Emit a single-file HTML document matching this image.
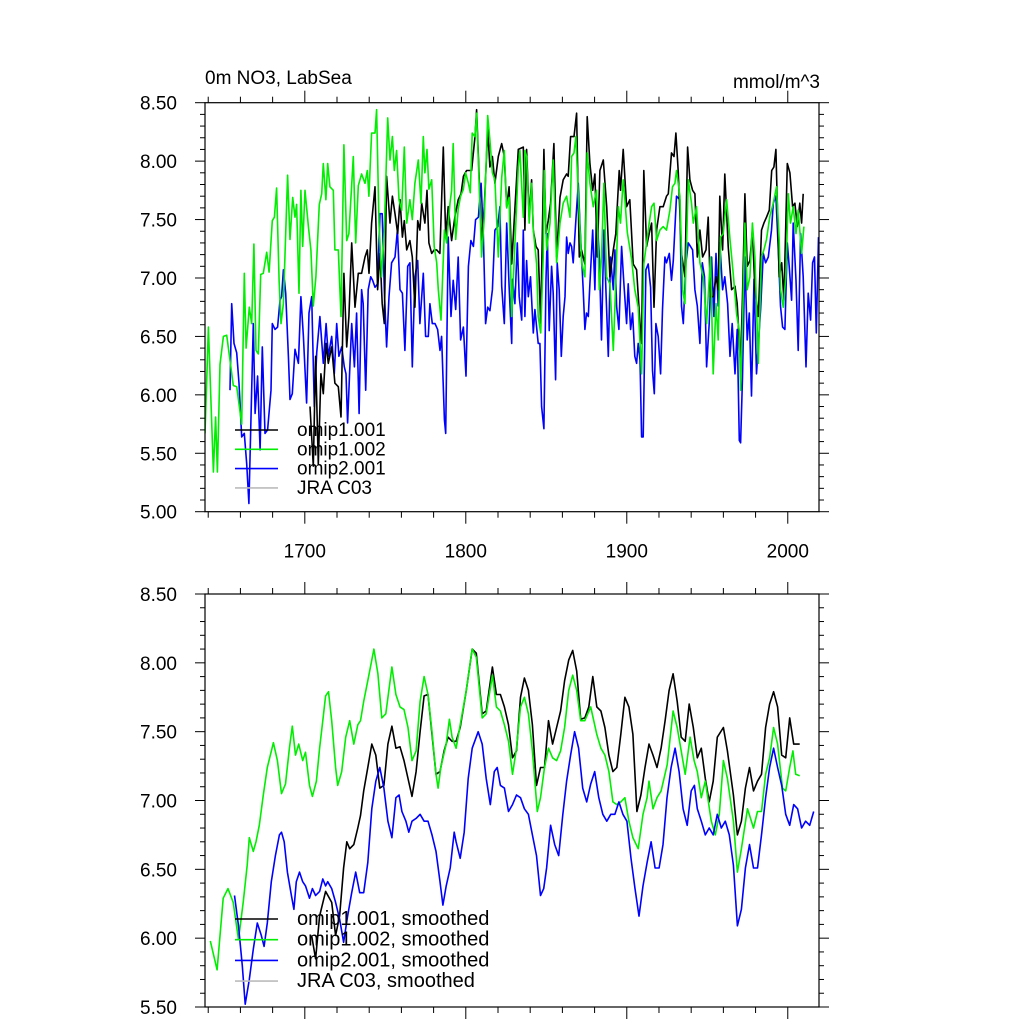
<!DOCTYPE html>
<html><head><meta charset="utf-8">
<style>
html,body{margin:0;padding:0;background:#fff;}
svg{display:block;font-family:"Liberation Sans",Arial,sans-serif;}
</style></head>
<body>
<svg id="chart" width="1024" height="1024" viewBox="0 0 1024 1024">
<text x="205" y="84" font-size="19">0m NO3, LabSea</text>
<text x="820" y="88" font-size="19" text-anchor="end">mmol/m^3</text>
<g id="top"></g>
<g id="bot"></g>
</svg>
<script>
// ---------- data ----------
const topYTicks = [5.0,5.5,6.0,6.5,7.0,7.5,8.0,8.5];
const botYTicks = [5.5,6.0,6.5,7.0,7.5,8.0,8.5];
const xTickLabels = [1700,1800,1900,2000];
const topSeriesNames = ["omip1.001","omip1.002","omip2.001","JRA C03"];
const botSeriesNames = ["omip1.001, smoothed","omip1.002, smoothed","omip2.001, smoothed","JRA C03, smoothed"];

const g1Years=[1638.0,1640.1,1643.2,1644.6,1645.7,1647.3,1649.4,1651.5,1655.6,1657.7,1660.8,1662.4,1663.5,1665.5,1667.0,1668.4,1669.7,1671.1,1672.6,1674.2,1676.3,1677.8,1679.8,1681.1,1682.5,1684.0,1685.2,1686.7,1689.3,1690.8,1692.5,1693.9,1694.9,1696.4,1697.6,1698.7,1700.1,1702.2,1703.8,1705.3,1706.9,1709.0,1710.5,1711.5,1713.1,1714.2,1715.6,1717.7,1718.7,1720.8,1722.5,1724.3,1726.0,1727.4,1730.1,1731.6,1733.2,1735.3,1737.4,1738.8,1739.8,1741.5,1743.6,1744.6,1746.1,1747.7,1749.4,1751.5,1752.9,1754.4,1755.6,1757.0,1758.5,1760.2,1761.8,1763.3,1765.3,1766.8,1768.4,1770.5,1772.2,1773.6,1774.6,1775.9,1777.1,1778.8,1780.4,1781.9,1782.9,1784.6,1786.7,1788.1,1790.2,1791.2,1792.2,1793.7,1795.3,1796.8,1798.5,1799.9,1801.6,1802.8,1804.0,1805.7,1806.7,1808.2,1809.8,1811.5,1813.6,1815.0,1816.5,1818.1,1820.2,1822.3,1823.9,1825.4,1826.9,1828.5,1832.6,1833.6,1835.7,1836.7,1837.8,1839.4,1840.9,1841.9,1842.9,1844.0,1845.0,1846.5,1848.1,1848.7,1850.2,1852.3,1854.3,1856.4,1858.5,1860.5,1862.6,1864.7,1865.7,1867.2,1868.4,1869.9,1872.0,1874.0,1875.4,1877.1,1879.2,1881.2,1882.9,1884.3,1885.8,1887.4,1889.5,1891.6,1892.6,1894.7,1896.1,1897.8,1898.8,1900.3,1903.0,1905.0,1907.1,1909.2,1910.6,1912.3,1913.9,1915.4,1916.9,1918.5,1920.6,1922.6,1924.7,1925.8,1926.8,1928.4,1929.9,1930.9,1933.0,1934.7,1936.1,1938.2,1940.2,1941.3,1943.3,1945.4,1947.5,1949.6,1952.0,1953.7,1955.4,1956.8,1958.3,1959.9,1962.0,1964.1,1966.1,1968.2,1969.9,1970.7,1971.9,1973.4,1974.8,1976.5,1978.0,1979.6,1981.7,1983.7,1985.2,1986.8,1988.9,1991.0,1993.0,1994.7,1995.5,1997.2,1998.8,2000.3,2001.7,2003.4,2005.1,2006.5,2008.6,2010.0];
const g1Vals=[5.67,6.58,5.34,5.81,5.34,6.26,6.50,6.51,6.08,6.07,5.75,7.04,6.40,6.75,6.61,7.29,6.38,6.35,7.03,7.04,7.22,7.05,7.49,7.52,7.77,6.98,6.61,6.78,7.88,7.33,7.69,7.52,7.63,6.87,7.75,7.27,7.75,7.44,7.24,6.76,7.01,7.63,7.72,7.98,7.67,7.98,7.78,7.75,7.24,7.24,6.67,8.14,7.32,7.38,8.04,7.30,7.79,7.89,7.81,7.92,7.70,8.24,8.24,8.44,7.47,7.01,7.41,8.37,8.01,8.21,7.92,8.09,7.67,7.58,8.12,7.47,7.67,7.50,7.81,8.01,7.64,8.21,7.90,8.10,7.76,7.84,7.27,7.13,6.90,6.64,7.41,7.30,7.64,7.75,8.15,7.33,7.59,7.70,7.76,7.90,7.81,7.73,8.24,8.21,8.41,7.84,7.18,7.52,8.39,8.18,7.90,7.84,7.18,7.86,8.09,7.60,7.69,6.67,7.95,8.09,7.52,8.09,8.04,7.47,7.81,7.41,7.27,7.12,6.67,6.53,7.18,7.92,7.24,7.47,8.01,7.13,7.47,7.64,7.70,7.52,8.04,8.07,8.21,7.70,7.13,7.01,8.07,7.81,7.61,7.75,6.90,7.18,7.81,7.01,6.95,6.38,6.75,7.61,7.47,7.84,7.67,7.39,7.16,6.90,6.75,6.18,7.12,7.30,7.47,7.61,7.64,7.32,7.41,7.44,7.41,7.50,7.58,7.78,7.81,7.92,7.70,6.90,6.78,7.84,7.64,7.47,7.61,7.13,7.01,6.61,7.18,6.18,6.78,6.47,7.35,7.38,7.67,7.33,7.04,6.69,6.55,6.04,6.61,7.47,6.90,7.01,7.47,7.18,6.27,7.18,7.24,7.33,7.53,7.64,7.78,7.32,6.90,6.75,7.01,7.72,7.47,7.61,7.38,7.58,7.21,7.44];

const k1Years=[1703.2,1705.3,1706.7,1708.4,1710.0,1711.5,1713.2,1714.6,1716.7,1718.7,1720.8,1722.5,1724.3,1726.0,1727.4,1729.1,1731.2,1733.2,1735.3,1737.4,1738.8,1739.9,1741.5,1743.6,1745.2,1746.7,1748.1,1749.4,1750.8,1752.9,1754.4,1756.0,1757.7,1759.1,1760.6,1761.8,1763.3,1765.3,1766.8,1768.4,1770.1,1771.5,1772.6,1774.6,1775.9,1777.1,1778.8,1780.4,1781.9,1783.9,1786.0,1787.5,1789.1,1791.2,1793.3,1795.3,1797.0,1798.5,1800.5,1802.0,1803.6,1805.7,1806.7,1808.2,1809.8,1811.5,1813.6,1815.0,1816.5,1818.1,1820.2,1822.3,1823.9,1825.4,1826.9,1828.5,1832.6,1835.7,1836.7,1837.8,1839.4,1840.9,1841.9,1843.6,1845.0,1846.5,1848.5,1849.8,1851.2,1852.7,1854.7,1856.4,1858.5,1860.5,1862.6,1863.6,1865.1,1867.2,1868.8,1870.5,1871.9,1874.0,1875.4,1877.1,1878.8,1880.2,1881.7,1883.3,1885.4,1887.5,1889.5,1891.6,1893.2,1895.3,1896.1,1897.8,1899.9,1901.9,1904.0,1906.1,1908.2,1909.2,1910.6,1912.3,1913.9,1915.4,1916.9,1918.5,1920.6,1922.6,1924.7,1925.8,1927.8,1929.3,1930.5,1932.0,1934.0,1936.1,1937.8,1939.2,1940.9,1942.3,1943.8,1945.4,1947.1,1949.2,1950.6,1952.0,1953.7,1955.4,1956.8,1957.8,1959.5,1960.9,1963.0,1965.1,1967.2,1968.6,1969.9,1970.7,1971.9,1973.4,1974.8,1976.5,1978.0,1979.6,1981.7,1983.7,1985.2,1986.8,1988.5,1990.0,1991.4,1992.6,1994.7,1996.2,1997.6,1999.7,2001.3,2003.0,2004.4,2005.9,2007.5,2008.6,2009.6];
const k1Vals=[5.90,5.39,6.33,5.41,6.18,6.01,6.44,6.27,6.41,6.10,6.07,5.81,7.04,6.41,6.67,7.30,6.75,7.04,7.04,7.18,7.24,7.04,7.47,7.78,6.90,7.21,6.78,6.61,7.87,7.47,7.70,7.55,7.38,7.67,7.35,7.49,7.24,7.32,7.18,6.75,7.49,7.41,7.64,7.47,7.75,7.30,7.21,7.24,7.24,7.21,8.12,7.35,7.61,7.32,7.53,7.67,7.72,7.87,7.92,7.92,7.92,8.21,8.44,7.90,7.30,7.61,8.27,7.95,8.04,7.81,8.04,8.15,8.04,7.61,7.78,7.12,8.10,8.12,7.41,8.10,7.52,7.84,7.41,7.27,7.24,6.61,8.10,7.38,7.49,7.64,8.15,7.18,7.69,7.84,7.89,7.87,8.21,8.21,8.41,7.18,7.24,7.12,8.38,7.98,7.75,7.89,7.18,7.92,8.01,7.61,7.01,7.24,7.38,7.92,7.75,8.10,7.61,7.67,7.12,7.07,6.61,6.44,7.92,7.27,7.38,7.47,6.75,7.41,7.61,7.61,7.70,7.72,8.07,8.04,8.24,7.90,7.21,7.01,8.12,7.84,7.75,7.72,7.18,7.41,7.18,7.24,7.52,6.84,6.84,7.01,6.90,7.70,7.24,7.89,7.27,6.90,6.93,6.78,6.44,6.27,6.84,7.72,7.10,7.15,7.41,6.90,6.67,7.41,7.47,7.52,7.58,7.92,7.95,8.10,7.01,7.13,6.81,7.98,7.90,7.61,7.64,7.44,7.64,7.47,7.72];

const b1Years=[1653.5,1654.6,1656.0,1657.7,1659.1,1660.8,1662.4,1663.9,1665.3,1667.0,1668.0,1669.1,1670.7,1672.2,1673.6,1675.3,1676.9,1679.0,1679.8,1681.5,1683.1,1684.6,1685.6,1686.7,1688.1,1689.8,1690.8,1692.2,1693.9,1696.0,1697.6,1699.1,1701.1,1702.6,1704.3,1705.9,1707.4,1709.4,1711.5,1713.2,1714.6,1716.7,1718.3,1719.8,1721.2,1722.9,1724.5,1725.6,1726.6,1728.1,1729.1,1730.8,1732.2,1733.7,1735.3,1736.3,1737.8,1739.4,1740.9,1742.1,1743.6,1745.2,1746.7,1748.1,1749.4,1750.8,1752.3,1753.9,1756.0,1757.5,1759.1,1760.6,1762.2,1763.9,1765.3,1766.8,1768.4,1770.1,1771.5,1773.6,1775.0,1776.7,1777.7,1779.2,1780.9,1782.5,1784.0,1785.0,1786.7,1787.5,1789.1,1790.8,1792.2,1793.7,1795.3,1796.8,1798.5,1800.1,1801.6,1803.2,1804.7,1806.1,1807.8,1809.5,1810.9,1812.3,1813.6,1815.0,1816.5,1818.1,1819.8,1821.2,1822.3,1823.9,1825.4,1826.9,1828.5,1829.1,1830.5,1832.0,1833.2,1834.7,1835.7,1836.7,1837.8,1838.8,1840.2,1841.9,1842.9,1845.0,1846.0,1847.1,1848.5,1849.8,1850.6,1851.8,1853.3,1854.3,1855.8,1856.8,1858.0,1859.3,1860.5,1861.6,1862.6,1863.6,1864.7,1865.7,1866.7,1868.4,1869.9,1870.9,1872.9,1874.0,1875.0,1876.1,1877.1,1878.8,1880.2,1881.2,1882.9,1884.3,1885.8,1887.0,1888.5,1889.9,1891.6,1892.6,1893.7,1895.1,1896.8,1898.2,1899.9,1900.9,1902.4,1903.6,1905.0,1906.1,1907.1,1908.2,1909.2,1910.2,1911.9,1913.3,1914.8,1916.0,1917.1,1918.1,1919.5,1921.0,1922.2,1923.7,1924.7,1926.4,1927.8,1928.9,1930.9,1933.0,1934.0,1935.1,1936.7,1938.2,1939.6,1940.9,1942.3,1943.8,1945.4,1946.9,1948.3,1949.6,1951.2,1952.7,1954.1,1955.4,1956.8,1957.8,1959.5,1960.9,1962.6,1964.1,1965.5,1967.2,1968.6,1969.9,1970.7,1971.9,1973.4,1974.8,1976.1,1977.5,1979.0,1980.6,1982.3,1983.1,1984.8,1986.2,1987.9,1989.9,1991.0,1992.6,1994.1,1995.5,1996.8,1998.2,1999.7,2000.9,2002.4,2003.4,2005.1,2006.5,2008.0,2009.6,2011.3,2012.7,2014.2,2015.4,2016.6,2017.7,2019.1];
const b1Vals=[6.04,6.78,6.44,6.36,6.10,5.64,5.67,5.41,5.07,6.05,6.61,5.84,6.16,5.53,6.41,5.67,5.70,6.04,6.61,6.56,6.58,6.81,6.84,7.07,6.87,6.33,5.96,6.01,6.39,6.27,6.84,6.50,5.93,6.70,6.84,5.90,6.36,6.67,6.27,6.61,6.33,6.50,6.18,6.61,6.33,6.41,6.24,6.18,5.76,6.27,6.61,6.24,6.70,5.84,6.90,6.78,6.04,6.90,7.01,6.98,6.92,6.95,7.55,7.55,6.90,6.41,6.84,7.13,7.18,7.41,6.90,6.87,6.38,7.10,7.13,6.24,7.01,7.15,6.61,7.04,6.50,6.50,6.78,6.61,6.61,6.56,6.38,6.50,5.79,5.67,7.35,6.67,6.98,6.73,7.18,6.47,6.58,6.16,7.10,7.32,7.27,7.50,7.52,7.81,7.38,6.61,6.75,6.72,6.90,7.41,7.44,7.61,6.93,6.61,7.47,6.93,6.44,6.99,6.78,7.30,6.84,6.64,7.41,6.67,7.15,6.84,7.01,6.53,6.73,6.44,6.44,5.90,5.71,6.99,7.38,6.55,7.10,6.87,6.13,7.13,6.90,6.33,6.67,6.84,7.35,7.21,7.30,7.27,7.13,7.50,7.81,7.47,6.90,6.56,6.70,6.67,6.95,7.41,6.90,7.61,7.18,6.47,7.41,6.90,6.33,7.18,6.90,7.24,6.76,6.56,7.27,6.95,6.61,6.95,6.56,6.70,6.33,6.27,6.44,6.30,5.64,5.64,7.07,7.12,6.92,6.21,6.01,6.61,6.50,6.18,6.73,7.18,7.13,7.21,6.98,7.15,7.70,7.67,6.76,6.61,7.13,7.30,7.27,7.24,6.90,6.76,6.44,7.13,7.01,6.24,6.61,7.18,6.67,7.21,6.76,7.30,6.90,7.01,6.78,6.33,6.61,6.18,6.56,5.61,5.59,6.15,7.18,6.47,6.70,5.99,6.99,6.18,6.56,6.73,7.21,7.13,7.18,7.41,7.64,7.70,7.24,6.76,6.58,6.56,7.30,7.10,6.81,7.47,6.98,6.38,7.38,7.01,6.24,6.87,6.64,7.13,7.18,6.53,7.35];

const g2Years=[1641.3,1645.5,1649.3,1652.3,1655.5,1658.8,1661.7,1664.2,1665.5,1668.0,1669.7,1671.7,1674.2,1676.7,1680.5,1683.0,1685.5,1688.0,1690.4,1692.2,1694.2,1696.2,1698.7,1700.4,1702.9,1704.7,1707.2,1709.2,1711.2,1712.9,1714.7,1716.7,1719.1,1720.4,1722.9,1725.4,1727.9,1730.4,1732.9,1734.6,1736.6,1739.1,1742.9,1745.4,1747.8,1750.3,1754.1,1756.6,1759.1,1761.6,1764.1,1766.6,1769.1,1771.6,1774.1,1776.5,1779.0,1781.5,1782.8,1784.5,1787.8,1789.8,1791.5,1794.0,1796.5,1800.3,1804.0,1806.5,1810.2,1812.7,1816.5,1819.0,1821.5,1824.0,1826.5,1829.0,1831.5,1834.0,1836.4,1838.9,1841.4,1844.4,1846.4,1848.9,1851.4,1853.9,1856.4,1858.9,1861.4,1863.9,1866.4,1868.9,1871.4,1873.9,1877.6,1881.4,1883.9,1886.4,1888.9,1891.4,1893.8,1896.3,1898.8,1901.3,1903.8,1907.1,1910.1,1912.6,1913.8,1916.3,1918.8,1921.3,1925.1,1928.8,1931.3,1933.8,1936.3,1939.3,1941.8,1943.8,1946.3,1948.8,1952.5,1955.0,1957.5,1960.0,1962.5,1966.2,1968.7,1971.2,1975.0,1978.7,1981.2,1983.7,1986.2,1988.7,1991.2,1993.7,1996.7,1998.7,2001.2,2003.2,2004.9,2007.4];
const g2Vals=[5.98,5.77,6.29,6.36,6.26,5.99,6.26,6.53,6.73,6.63,6.70,6.82,7.04,7.24,7.42,7.29,7.05,7.12,7.38,7.54,7.33,7.41,7.29,7.35,7.11,7.03,7.14,7.38,7.58,7.76,7.79,7.58,7.24,7.11,7.21,7.46,7.58,7.41,7.55,7.58,7.72,7.87,8.10,7.92,7.60,7.63,7.97,7.77,7.68,7.66,7.53,7.29,7.36,7.72,7.90,7.77,7.50,7.19,7.09,7.24,7.41,7.59,7.46,7.38,7.55,7.80,8.10,8.04,7.60,7.63,7.91,7.68,7.65,7.55,7.43,7.19,7.38,7.68,7.75,7.63,7.36,6.92,7.02,7.24,7.38,7.31,7.29,7.36,7.53,7.80,7.91,7.80,7.58,7.58,7.68,7.48,7.38,7.33,7.21,6.99,6.97,6.99,7.02,6.85,6.73,6.65,6.90,7.02,7.14,6.94,7.02,7.07,7.26,7.65,7.53,7.36,7.19,7.46,7.29,7.21,7.02,7.14,6.85,6.75,6.90,7.29,7.16,6.85,6.48,6.65,6.94,6.80,6.92,6.92,7.19,7.31,7.53,7.41,7.09,7.07,7.24,7.36,7.19,7.18];

const k2Years=[1704.2,1706.7,1709.2,1712.9,1716.7,1719.1,1721.6,1724.1,1726.1,1727.9,1730.4,1732.9,1734.6,1736.6,1739.1,1741.6,1744.1,1746.6,1749.1,1751.6,1754.1,1756.6,1759.1,1761.6,1764.1,1766.6,1769.1,1771.6,1774.1,1776.5,1779.0,1781.5,1784.0,1786.5,1789.0,1791.5,1794.0,1796.5,1800.3,1804.0,1806.5,1810.2,1812.7,1816.5,1819.0,1821.5,1824.0,1826.5,1829.0,1831.5,1834.0,1836.4,1838.9,1841.4,1843.9,1846.4,1848.9,1851.4,1853.9,1856.4,1858.9,1861.4,1863.9,1866.4,1868.9,1871.4,1873.9,1876.4,1878.9,1881.4,1883.9,1886.4,1888.9,1891.4,1893.8,1896.3,1898.8,1901.3,1903.8,1906.3,1908.8,1911.3,1913.8,1916.3,1918.8,1921.3,1923.8,1926.3,1928.8,1931.3,1933.8,1936.3,1938.8,1941.3,1943.8,1946.3,1948.8,1951.2,1953.7,1956.2,1960.0,1962.5,1966.2,1968.7,1971.2,1973.7,1976.2,1978.7,1981.2,1983.7,1986.2,1988.7,1991.2,1993.7,1996.2,1998.7,2001.2,2003.7,2007.4];
const k2Vals=[6.02,5.85,6.16,6.34,6.26,6.02,6.16,6.51,6.70,6.65,6.68,6.80,6.89,7.07,7.24,7.41,7.33,7.09,7.11,7.41,7.54,7.38,7.39,7.29,7.16,7.03,7.21,7.50,7.76,7.77,7.48,7.19,7.21,7.36,7.46,7.43,7.43,7.53,7.80,8.10,8.07,7.63,7.65,7.97,7.77,7.77,7.68,7.55,7.31,7.36,7.75,7.89,7.80,7.55,7.11,7.24,7.24,7.58,7.41,7.53,7.65,7.87,8.02,8.09,7.94,7.59,7.60,7.68,7.90,7.68,7.65,7.53,7.33,7.21,7.24,7.48,7.75,7.68,7.48,6.92,7.04,7.24,7.41,7.33,7.24,7.38,7.58,7.80,7.92,7.72,7.46,7.43,7.70,7.53,7.31,7.38,7.16,6.99,7.14,7.46,7.53,7.36,7.04,6.75,6.85,7.09,7.24,7.07,7.14,7.19,7.53,7.70,7.79,7.68,7.33,7.31,7.60,7.41,7.41];

const b2Years=[1656.3,1658.8,1661.2,1663.0,1665.5,1668.0,1670.5,1673.0,1674.7,1676.7,1679.2,1681.7,1684.2,1685.5,1687.2,1689.2,1691.7,1693.2,1694.7,1696.7,1698.7,1700.4,1702.9,1704.7,1706.7,1709.2,1711.2,1712.9,1714.2,1716.7,1719.1,1721.6,1724.1,1726.6,1729.1,1731.6,1734.1,1736.6,1739.1,1741.6,1744.1,1746.6,1749.1,1751.6,1754.1,1756.6,1758.6,1760.3,1762.8,1764.6,1766.6,1769.1,1771.6,1774.1,1776.5,1779.0,1781.5,1784.0,1785.8,1787.8,1790.3,1792.8,1794.0,1796.5,1799.0,1801.5,1804.0,1807.7,1810.2,1812.7,1815.2,1817.7,1819.5,1821.5,1824.0,1826.5,1829.0,1831.5,1834.0,1836.4,1838.9,1841.4,1843.9,1846.4,1848.4,1850.2,1852.7,1855.2,1857.7,1860.2,1862.6,1865.1,1867.6,1870.1,1872.6,1875.1,1877.6,1880.1,1882.6,1885.1,1887.6,1890.1,1892.6,1895.1,1897.6,1900.1,1902.6,1905.1,1907.6,1910.1,1912.6,1915.1,1917.6,1920.1,1922.5,1925.0,1927.5,1930.0,1932.5,1935.0,1937.5,1940.0,1942.0,1943.8,1946.3,1948.8,1951.2,1953.7,1956.2,1958.7,1961.2,1963.7,1966.2,1968.7,1971.2,1973.7,1976.2,1978.7,1981.2,1983.7,1986.2,1988.7,1991.2,1993.7,1996.2,1998.7,2001.2,2003.7,2006.1,2008.6,2011.1,2013.6,2016.1];
const b2Vals=[6.31,6.09,5.80,5.52,5.70,5.92,6.11,6.02,5.94,6.11,6.41,6.60,6.75,6.77,6.70,6.48,6.31,6.21,6.41,6.48,6.41,6.38,6.29,6.36,6.31,6.34,6.43,6.38,6.41,6.36,6.26,6.14,5.97,6.16,6.33,6.48,6.33,6.33,6.55,6.94,7.14,7.24,7.09,6.85,6.73,7.02,7.04,6.92,6.85,6.77,6.85,6.87,6.90,6.85,6.85,6.75,6.63,6.41,6.24,6.38,6.51,6.77,6.70,6.58,6.77,7.16,7.38,7.50,7.41,7.16,6.97,7.21,7.24,7.11,7.09,6.92,6.97,7.04,7.02,6.94,6.90,6.75,6.60,6.31,6.36,6.51,6.82,6.68,6.60,6.89,7.14,7.33,7.50,7.38,7.09,6.99,7.12,7.21,7.02,6.90,6.85,6.90,6.90,6.99,6.90,6.85,6.58,6.36,6.16,6.38,6.55,6.70,6.51,6.51,6.68,7.02,7.24,7.38,7.21,6.94,6.82,7.07,7.11,6.94,6.85,6.75,6.80,6.75,6.90,6.80,6.85,6.75,6.53,6.09,6.21,6.51,6.68,6.51,6.51,6.75,7.02,7.24,7.38,7.24,7.11,6.90,6.82,6.97,6.94,6.80,6.85,6.82,6.92];

// ---------- drawing ----------
const NS="http://www.w3.org/2000/svg";
function mk(tag,attrs,parent){const e=document.createElementNS(NS,tag);for(const k in attrs)e.setAttribute(k,attrs[k]);parent.appendChild(e);return e;}
const X0=205,X1=819,YR0=1638,YR1=2019.4;
function xs(yr){return X0+(yr-YR0)/(YR1-YR0)*(X1-X0);}

function panel(g,top,bot,ymin,ymax,yticks,showXLabels,series,names,legY,legStep,legFont){
  const ys=v=>bot-(v-ymin)/(ymax-ymin)*(bot-top);
  const cid="clip"+Math.round(top);
  const cp=mk("clipPath",{id:cid},g);mk("rect",{x:X0,y:top,width:X1-X0,height:bot-top},cp);
  series.forEach(s=>{
    let d="";s.years.forEach((yr,i)=>{d+=(i?"L":"M")+xs(yr).toFixed(1)+" "+ys(s.vals[i]).toFixed(1);});
    const p=mk("path",{d:d,fill:"none",stroke:s.color,"stroke-width":1.6,"stroke-linejoin":"round","clip-path":"url(#"+cid+")"},g);
    
    
  });
  const fr=mk("rect",{x:X0,y:top,width:X1-X0,height:bot-top,fill:"none",stroke:"#000","stroke-width":1.2},g);
  
  
  for(let v=Math.round(ymin*10);v<=Math.round(ymax*10);v++){
    const y=ys(v/10);const major=(v%5===0);const L=major?10:5;
    mk("line",{x1:X0-L,y1:y,x2:X0,y2:y,stroke:"#000","stroke-width":1},g);
    mk("line",{x1:X1,y1:y,x2:X1+L,y2:y,stroke:"#000","stroke-width":1},g);
  }
  yticks.forEach(v=>{
    const t=mk("text",{x:177,y:ys(v)+7,"font-size":19,"text-anchor":"end"},g);t.textContent=v.toFixed(2);
    
    
  });
  for(let yr=1640;yr<=YR1;yr+=20){
    const x=xs(yr);const major=(yr%100===0);const L=major?12:6;
    mk("line",{x1:x,y1:bot,x2:x,y2:bot+L,stroke:"#000","stroke-width":1},g);
    mk("line",{x1:x,y1:top-L,x2:x,y2:top,stroke:"#000","stroke-width":1},g);
  }
  if(showXLabels){xTickLabels.forEach(yr=>{
    const t=mk("text",{x:xs(yr),y:bot+46,"font-size":19,"text-anchor":"middle"},g);t.textContent=yr;
    
    
  });}
  const cols=["#000","#00ee00","#0000ff","#bbbbbb"];
  names.forEach((n,i)=>{
    const y=legY+i*legStep;
    const le=mk("g",{},g);
    
    
    mk("line",{x1:235,y1:y,x2:278,y2:y,stroke:cols[i],"stroke-width":1.6},le);
    const t=mk("text",{x:297,y:y+6,"font-size":legFont},le);t.textContent=n;
  });
}
panel(document.getElementById("top"),102.7,511.7,5.0,8.5,topYTicks,true,[
  {name:"series-omip2-001",years:b1Years,vals:b1Vals,color:"#0000ff"},
  {name:"series-omip1-001",years:k1Years,vals:k1Vals,color:"#000000"},
  {name:"series-omip1-002",years:g1Years,vals:g1Vals,color:"#00ee00"}],topSeriesNames,430,19.3,19);
panel(document.getElementById("bot"),594,1007,5.5,8.5,botYTicks,false,[
  {name:"series-omip1-001-smoothed",years:k2Years,vals:k2Vals,color:"#000000"},
  {name:"series-omip1-002-smoothed",years:g2Years,vals:g2Vals,color:"#00ee00"},
  {name:"series-omip2-001-smoothed",years:b2Years,vals:b2Vals,color:"#0000ff"}],botSeriesNames,919,20.7,20);
</script>
</body></html>
